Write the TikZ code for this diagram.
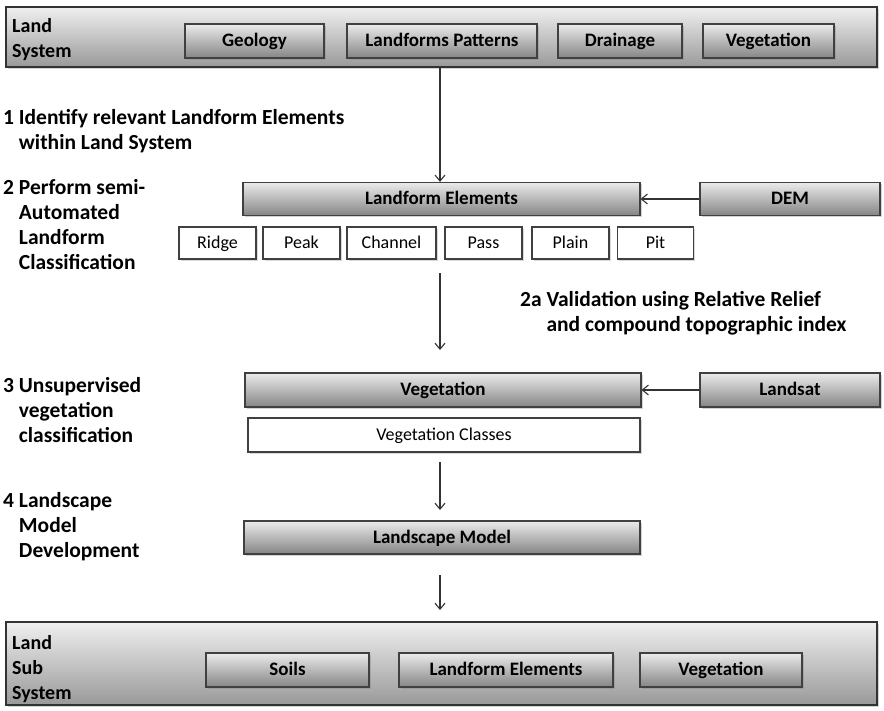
\documentclass[tikz,border=0pt]{standalone}
\usepackage{fontspec}
\setmainfont{Carlito}
\usepackage{tikz}
\usetikzlibrary{arrows.meta,shadows}
\newcommand{\indnt}{\hphantom{1}\ }
\newcommand{\indnta}{\hphantom{2a}\ }

\begin{document}
\begin{tikzpicture}[x=1pt,y=-1pt,>={Straight Barb[length=6pt,width=10pt]},
    boxtext/.style={font=\fontsize{19}{22}\selectfont\bfseries,text height=11pt,text depth=0pt},
    steptext/.style={font=\fontsize{21.5}{25}\selectfont\bfseries,align=left,anchor=west,inner sep=0pt},
    graybox/.style={boxtext,draw=black!75,line width=1.2pt,top color=black!8,bottom color=black!48,
        drop shadow={shadow xshift=1.5pt,shadow yshift=-1.5pt,opacity=0.35},minimum height=33pt,inner sep=0pt},
    whitebox/.style={font=\fontsize{18}{22}\selectfont,text height=11pt,text depth=0pt,draw=black!75,line width=1.2pt,fill=white,
        drop shadow={shadow xshift=1.5pt,shadow yshift=-1.5pt,opacity=0.3},minimum height=32pt,inner sep=0pt},
    outerbox/.style={draw=black!80,line width=1.5pt,top color=black!6,bottom color=black!40,
        drop shadow={shadow xshift=2pt,shadow yshift=-2pt,opacity=0.35},inner sep=0pt},
    flow/.style={->,black!80,line width=1.1pt}]
    \useasboundingbox (0,0) rectangle (884,710);

    % Land system
    \node[outerbox,minimum width=871pt,minimum height=60pt] (landsys) at (441.5,37) {};
    \node[steptext,font=\fontsize{20}{25}\selectfont\bfseries] (landsyslbl) at (12,39.5) {Land\\System};
    \node[graybox,minimum width=139pt,minimum height=34pt] (geology) at (254.5,41) {Geology};
    \node[graybox,minimum width=190pt,minimum height=34pt] (patterns) at (442,41) {Landforms Patterns};
    \node[graybox,minimum width=124pt,minimum height=34pt] (drainage) at (620,41) {Drainage};
    \node[graybox,minimum width=131pt,minimum height=34pt] (vegtop) at (768.5,41) {Vegetation};

    % Steps
    \node[steptext] (step1) at (3,131.5) {1 Identify relevant Landform Elements\\\indnt within Land System};
    \node[steptext] (step2) at (3,225) {2 Perform semi-\\\indnt Automated\\\indnt Landform\\\indnt Classification};
    \node[steptext] (step2a) at (520,313.5) {2a Validation using Relative Relief\\\indnta and compound topographic index};
    \node[steptext] (step3) at (3,410) {3 Unsupervised\\\indnt vegetation\\\indnt classification};
    \node[steptext] (step4) at (3,527) {4 Landscape\\\indnt Model\\\indnt Development};

    % Landform elements
    \node[graybox,minimum width=397pt] (elements) at (441.5,199) {Landform Elements};
    \node[graybox,minimum width=180pt] (dem) at (790,199) {DEM};
    \node[whitebox,minimum width=77pt] (ridge) at (217.5,243) {Ridge};
    \node[whitebox,minimum width=77pt] (peak) at (301.5,243) {Peak};
    \node[whitebox,minimum width=89pt] (channel) at (391.5,243) {Channel};
    \node[whitebox,minimum width=77pt] (pass) at (483.5,243) {Pass};
    \node[whitebox,minimum width=77pt] (plain) at (570.5,243) {Plain};
    \node[whitebox,minimum width=76pt] (pit) at (655.5,243) {Pit};

    % Vegetation
    \node[graybox,minimum width=396pt,minimum height=34pt] (veg) at (443,390) {Vegetation};
    \node[graybox,minimum width=180pt,minimum height=34pt] (landsat) at (790,390) {Landsat};
    \node[whitebox,minimum width=392pt,minimum height=34pt] (vegclasses) at (444,435) {Vegetation Classes};

    % Landscape model
    \node[graybox,minimum width=396pt] (model) at (442,537.5) {Landscape Model};

    % Land sub system
    \node[outerbox,minimum width=871pt,minimum height=83pt] (subsys) at (441.5,663.5) {};
    \node[steptext,font=\fontsize{20}{25}\selectfont\bfseries] (subsyslbl) at (12,669) {Land\\Sub\\System};
    \node[graybox,minimum width=163pt,minimum height=34pt] (soils) at (287.5,670) {Soils};
    \node[graybox,minimum width=214pt,minimum height=34pt] (subelements) at (506,670) {Landform Elements};
    \node[graybox,minimum width=162pt,minimum height=34pt] (subveg) at (721,670) {Vegetation};

    % Arrows
    \coordinate (a2s) at (440,273);
    \coordinate (a2e) at (440,350);
    \coordinate (a3s) at (440,462);
    \coordinate (a3e) at (440,510);
    \coordinate (a4s) at (440,575);
    \coordinate (a4e) at (440,610);
    \draw[flow] (landsys.south -| a2s) -- (elements.north -| a2s);
    \draw[flow] (dem.west) -- (elements.east);
    \draw[flow] (landsat.west) -- (veg.east);
    \draw[flow] (a2s) -- (a2e);
    \draw[flow] (a3s) -- (a3e);
    \draw[flow] (a4s) -- (a4e);
\end{tikzpicture}
\end{document}
